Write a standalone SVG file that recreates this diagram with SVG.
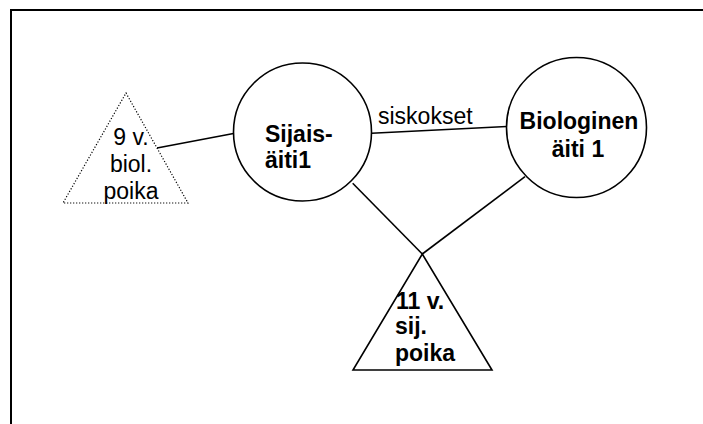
<svg xmlns="http://www.w3.org/2000/svg" width="703" height="424" viewBox="0 0 703 424">
<style>
.frame{fill:none;stroke:#000;stroke-width:2}
.shape{fill:#fff;stroke:#000;stroke-width:1.6}
.dotted{fill:#fff;stroke:#000;stroke-width:1.2;stroke-dasharray:1.2 1.8}
.conn{stroke:#000;stroke-width:1.6;fill:none}
.t{font-family:"Liberation Sans",Arial,sans-serif;font-size:23px;fill:#000}
.b{font-weight:bold}
</style>
<rect width="703" height="424" fill="#fff"/>
<path class="frame" d="M11,430 L11,10 L710,10"/>
<g id="connectors">
<line class="conn" x1="157" y1="148" x2="233.5" y2="133.5"/>
<line class="conn" x1="371.5" y1="133.3" x2="506.7" y2="126.5"/>
<line class="conn" x1="352.7" y1="183.3" x2="422.3" y2="254"/>
<line class="conn" x1="525" y1="176.7" x2="422.3" y2="254"/>
</g>
<text class="t" x="378" y="124">siskokset</text>
<g id="node-biol-poika">
<polygon class="dotted" points="126,93 188,203 63,203"/>
<text class="t" text-anchor="middle" x="131" y="145">9 v.</text>
<text class="t" text-anchor="middle" x="131" y="172">biol.</text>
<text class="t" text-anchor="middle" x="131" y="199">poika</text>
</g>
<g id="node-sijaisaiti">
<circle class="shape" cx="302.5" cy="132" r="69"/>
<text class="t b" x="265" y="142">Sijais-</text>
<text class="t b" x="265" y="168">äiti1</text>
</g>
<g id="node-biologinen">
<circle class="shape" cx="576.5" cy="127.5" r="70"/>
<text class="t b" text-anchor="middle" x="579" y="129">Biologinen</text>
<text class="t b" text-anchor="middle" x="578" y="157">äiti 1</text>
</g>
<g id="node-sij-poika">
<polygon class="shape" points="422.3,254 492,370 353,370"/>
<text class="t b" x="396" y="309">11 v.</text>
<text class="t b" x="395" y="334">sij.</text>
<text class="t b" x="395" y="361">poika</text>
</g>
</svg>
